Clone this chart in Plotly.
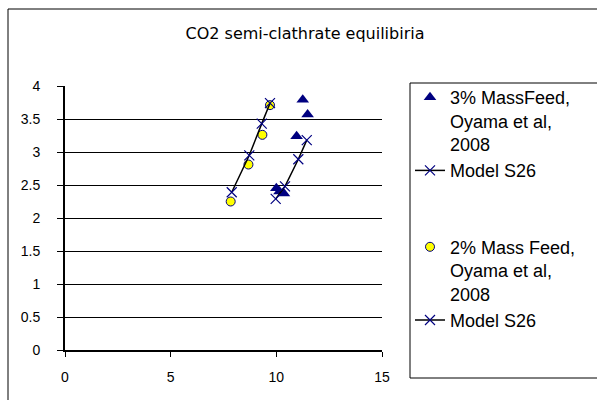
import plotly.graph_objects as go

# 3% mass feed data (Oyama et al, 2008)
x_3pct = [11.25, 11.48, 10.96, 10.00, 10.15, 10.36]
y_3pct = [3.79, 3.57, 3.24, 2.45, 2.40, 2.37]
# Model S26 for 3%
x_model3 = [9.97, 10.41, 11.04, 11.44]
y_model3 = [2.29, 2.48, 2.89, 3.18]
# 2% mass feed data (Oyama et al, 2008)
x_2pct = [7.84, 8.68, 9.34, 9.70]
y_2pct = [2.25, 2.81, 3.26, 3.71]
# Model S26 for 2%
x_model2 = [7.89, 8.72, 9.31, 9.70]
y_model2 = [2.39, 2.95, 3.43, 3.74]

names = ["3% MassFeed,<br>Oyama et al,<br>2008", "Model S26",
         "2% Mass Feed,<br>Oyama et al,<br>2008", "Model S26"]

x_ticks = [0, 5, 10, 15]
y_ticks = [0, 0.5, 1, 1.5, 2, 2.5, 3, 3.5, 4]

NAVY = "#000080"
FONT = "Arial, Liberation Sans, sans-serif"

fig = go.Figure()
fig.add_trace(go.Scatter(x=x_3pct, y=y_3pct, mode="markers", name=names[0],
                         legendgroup="a",
                         marker=dict(symbol="triangle-up", size=11, color=NAVY,
                                     line=dict(width=0))))
fig.add_trace(go.Scatter(x=x_model3, y=y_model3, mode="lines+markers", name=names[1],
                         legendgroup="a",
                         line=dict(color="black", width=1.5),
                         marker=dict(symbol="x-thin", size=10,
                                     line=dict(color=NAVY, width=1.2), color=NAVY)))
fig.add_trace(go.Scatter(x=x_2pct, y=y_2pct, mode="markers", name=names[2],
                         legendgroup="b",
                         marker=dict(symbol="circle", size=9, color="#FFFF00",
                                     line=dict(color=NAVY, width=1))))
fig.add_trace(go.Scatter(x=x_model2, y=y_model2, mode="lines+markers", name=names[3],
                         legendgroup="b",
                         line=dict(color="black", width=1.5),
                         marker=dict(symbol="x-thin", size=10,
                                     line=dict(color=NAVY, width=1.2), color=NAVY)))

L, R, T, B = 65, 382, 86, 350
W, H = 597, 400
pw, ph = R - L, B - T


def px(x):
    return (x - L) / pw


def py(y):
    return (B - y) / ph


fig.update_layout(
    width=W, height=H,
    margin=dict(l=L, r=W - R, t=T, b=H - B, pad=0),
    paper_bgcolor="white", plot_bgcolor="white",
    font=dict(family=FONT, color="black", size=14),
    title=dict(text="CO2 semi-clathrate equilibiria", x=305 / W, xref="container",
               xanchor="center", y=1 - 33 / H, yref="container", yanchor="middle",
               font=dict(size=16, family="DejaVu Sans, sans-serif", color="black")),
    xaxis=dict(range=[0, 15], tickvals=x_ticks, ticktext=[str(v) for v in x_ticks],
               showgrid=False, zeroline=False, showline=True, linecolor="black",
               linewidth=2, ticks="outside", ticklen=5, tickwidth=1, tickcolor="black",
               ticklabelstandoff=8, tickfont=dict(size=14)),
    yaxis=dict(range=[0, 4], tickvals=y_ticks, ticktext=[str(v) for v in y_ticks],
               showgrid=True, gridcolor="black", gridwidth=1, zeroline=False,
               showline=True, linecolor="black", linewidth=2, ticks="outside",
               ticklen=6, tickwidth=1, tickcolor="black", ticklabelstandoff=14,
               tickfont=dict(size=14)),
    showlegend=True,
    legend=dict(x=px(410), xanchor="left", y=py(79), yanchor="top",
                bgcolor="rgba(0,0,0,0)", borderwidth=0, maxheight=400,
                font=dict(size=18, family=FONT, color="black"),
                traceorder="grouped", tracegroupgap=50, valign="top",
                itemsizing="trace"),
    shapes=[
        dict(type="rect", xref="paper", yref="paper", x0=px(8), y0=py(430),
             x1=px(620), y1=py(9), line=dict(color="black", width=1), layer="above"),
        dict(type="rect", xref="paper", yref="paper", x0=px(410), y0=py(378),
             x1=px(620), y1=py(83), line=dict(color="black", width=1), layer="above"),
    ],
)

fig.write_html("out.html", config={"displayModeBar": False},
               post_script="document.body.style.margin='0';document.body.style.padding='0';")
